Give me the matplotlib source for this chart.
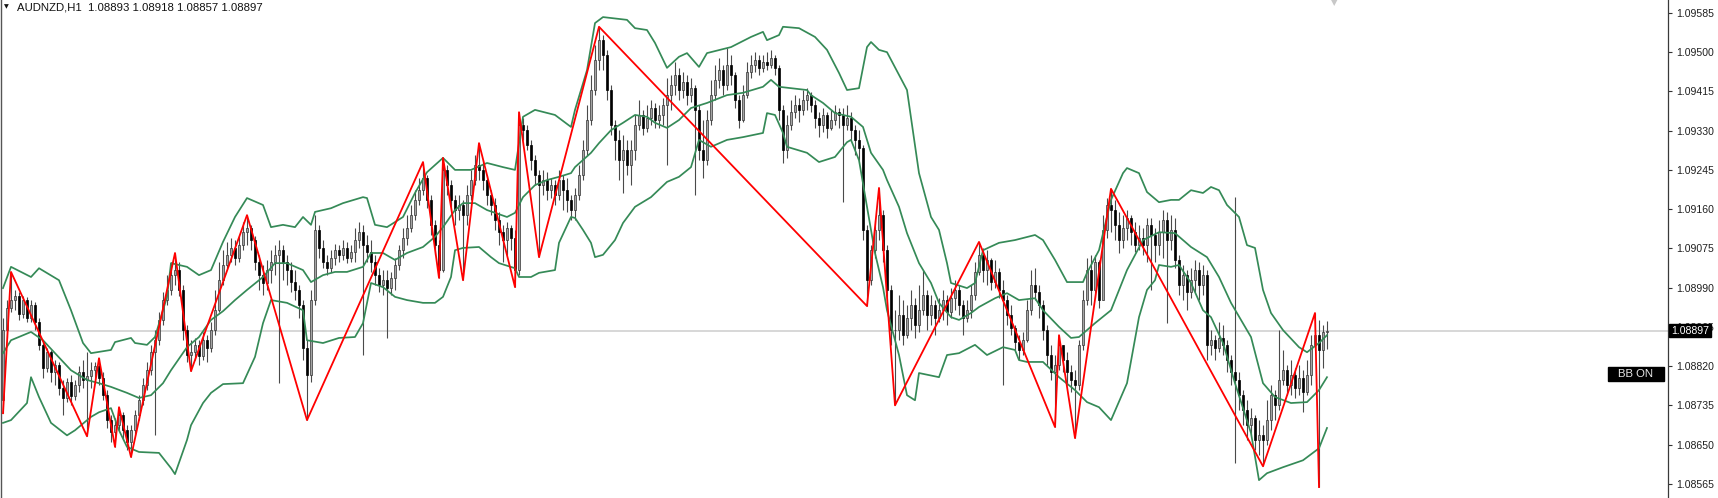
import numpy as np
import matplotlib
matplotlib.use("Agg")
import matplotlib.pyplot as plt
from matplotlib.patches import Rectangle

# ---------------- data (AUDNZD H1) ----------------
symbol_title = "AUDNZD,H1  1.08893 1.08918 1.08857 1.08897"

opens = [
    1.08746, 1.08898, 1.08946, 1.08963, 1.08972, 1.08933, 1.08963, 1.08924, 1.08952, 1.08915,
    1.08866, 1.08816, 1.08850, 1.08807, 1.08822, 1.08772, 1.08751, 1.08785, 1.08755, 1.08779,
    1.08807, 1.08790, 1.08798, 1.08811, 1.08820, 1.08794, 1.08757, 1.08703, 1.08677, 1.08692,
    1.08714, 1.08681, 1.08655, 1.08681, 1.08714, 1.08746, 1.08779, 1.08811, 1.08850, 1.08876,
    1.08920, 1.08963, 1.08985, 1.09017, 1.09028, 1.08985, 1.08898, 1.08844, 1.08850, 1.08866,
    1.08842, 1.08876, 1.08859, 1.08898, 1.08941, 1.09006, 1.09039, 1.09061, 1.09076, 1.09054,
    1.09082, 1.09110, 1.09119, 1.09093, 1.09045, 1.09017, 1.09000, 1.09028, 1.09045, 1.09061,
    1.09071, 1.09045, 1.09028, 1.09002, 1.08985, 1.08952, 1.08859, 1.08800, 1.08963, 1.09115,
    1.09076, 1.09045, 1.09032, 1.09054, 1.09071, 1.09061, 1.09076, 1.09054, 1.09067, 1.09093,
    1.09110, 1.09082, 1.09067, 1.09045, 1.09017, 1.08996, 1.09006, 1.08989, 1.09011, 1.09039,
    1.09071, 1.09097, 1.09119, 1.09147, 1.09180, 1.09201, 1.09227, 1.09180, 1.09126, 1.09082,
    1.09028, 1.09245, 1.09212, 1.09180, 1.09158, 1.09169, 1.09147, 1.09191, 1.09223, 1.09256,
    1.09245, 1.09223, 1.09191, 1.09169, 1.09136, 1.09110, 1.09093, 1.09119, 1.09097, 1.09028,
    1.09342, 1.09331, 1.09299, 1.09266, 1.09234, 1.09212, 1.09223, 1.09201, 1.09212, 1.09191,
    1.09223, 1.09201, 1.09180, 1.09158, 1.09191, 1.09234, 1.09288, 1.09353, 1.09418, 1.09483,
    1.09526, 1.09494, 1.09418, 1.09342, 1.09310, 1.09266, 1.09288, 1.09256, 1.09288, 1.09342,
    1.09364, 1.09336, 1.09357, 1.09379, 1.09353, 1.09364, 1.09386, 1.09407, 1.09429, 1.09451,
    1.09418, 1.09435, 1.09407, 1.09422, 1.09375, 1.09288, 1.09266, 1.09353, 1.09407, 1.09440,
    1.09461, 1.09429, 1.09472, 1.09451, 1.09396, 1.09353, 1.09407, 1.09457, 1.09472, 1.09483,
    1.09466, 1.09479, 1.09472, 1.09487, 1.09466, 1.09375, 1.09288, 1.09342, 1.09370, 1.09386,
    1.09375, 1.09396, 1.09407, 1.09386, 1.09357, 1.09342, 1.09364, 1.09336, 1.09353, 1.09370,
    1.09364, 1.09342, 1.09357, 1.09331, 1.09310, 1.09292, 1.09115, 1.09006, 1.09071, 1.09115,
    1.09147, 1.09071, 1.08985, 1.08898, 1.08898, 1.08931, 1.08887, 1.08924, 1.08952, 1.08909,
    1.08941, 1.08974, 1.08931, 1.08952, 1.08924, 1.08941, 1.08963, 1.08937, 1.08967, 1.08985,
    1.08952, 1.08924, 1.08941, 1.08974, 1.09024, 1.09061, 1.09028, 1.09050, 1.09002, 1.09024,
    1.08985, 1.08963, 1.08931, 1.08902, 1.08872, 1.08855, 1.08876, 1.08941, 1.08996, 1.08980,
    1.08952, 1.08898, 1.08844, 1.08807, 1.08822, 1.08866, 1.08833, 1.08807, 1.08790, 1.08779,
    1.08866, 1.08963, 1.09028, 1.08985, 1.09045, 1.08963, 1.09115, 1.09169, 1.09158, 1.09126,
    1.09093, 1.09119, 1.09141, 1.09110, 1.09082, 1.09097, 1.09082, 1.09126, 1.09104, 1.09082,
    1.09110, 1.09136, 1.09093, 1.09115, 1.09050, 1.08996, 1.09017, 1.08980, 1.09006, 1.09028,
    1.08996, 1.09017, 1.08866, 1.08876, 1.08859, 1.08881, 1.08866, 1.08833, 1.08807, 1.08790,
    1.08757, 1.08725, 1.08692, 1.08707, 1.08660, 1.08670, 1.08660, 1.08703, 1.08757, 1.08735,
    1.08790, 1.08811, 1.08779, 1.08800, 1.08772, 1.08794, 1.08764, 1.08800, 1.08866, 1.08887,
    1.08855, 1.08893,
]

highs = [
    1.08924, 1.08963, 1.09024, 1.08985, 1.08980, 1.08972, 1.08970, 1.08963, 1.08959, 1.08924,
    1.08872, 1.08859, 1.08855, 1.08833, 1.08829, 1.08790, 1.08794, 1.08800, 1.08790, 1.08820,
    1.08833, 1.08850, 1.08829, 1.08829, 1.08837, 1.08807, 1.08768, 1.08714, 1.08707, 1.08731,
    1.08720, 1.08692, 1.08692, 1.08725, 1.08757, 1.08794, 1.08829, 1.08866, 1.08898, 1.08937,
    1.08980, 1.09017, 1.09045, 1.09065, 1.09045, 1.08996, 1.08909, 1.08876, 1.08881, 1.08876,
    1.08894, 1.08887, 1.08915, 1.08985, 1.09045, 1.09071, 1.09089, 1.09097, 1.09093, 1.09102,
    1.09132, 1.09147, 1.09126, 1.09102, 1.09061, 1.09039, 1.09050, 1.09071, 1.09082, 1.09093,
    1.09082, 1.09061, 1.09045, 1.09028, 1.08996, 1.08963, 1.08876, 1.08985, 1.09147, 1.09126,
    1.09093, 1.09061, 1.09071, 1.09084, 1.09082, 1.09093, 1.09089, 1.09082, 1.09119, 1.09132,
    1.09126, 1.09104, 1.09093, 1.09061, 1.09032, 1.09028, 1.09028, 1.09024, 1.09054, 1.09082,
    1.09119, 1.09147, 1.09169, 1.09201, 1.09227, 1.09262, 1.09234, 1.09191, 1.09136, 1.09093,
    1.09271, 1.09256, 1.09223, 1.09191, 1.09191, 1.09180, 1.09212, 1.09245, 1.09277, 1.09303,
    1.09266, 1.09234, 1.09201, 1.09184, 1.09154, 1.09126, 1.09132, 1.09126, 1.09115, 1.09370,
    1.09357, 1.09342, 1.09310, 1.09277, 1.09245, 1.09245, 1.09240, 1.09227, 1.09223, 1.09245,
    1.09234, 1.09227, 1.09191, 1.09206, 1.09256, 1.09310, 1.09386, 1.09451, 1.09516, 1.09555,
    1.09537, 1.09505, 1.09429, 1.09353, 1.09331, 1.09321, 1.09310, 1.09310, 1.09364, 1.09396,
    1.09375, 1.09386, 1.09396, 1.09390, 1.09386, 1.09401, 1.09444, 1.09451, 1.09479, 1.09466,
    1.09457, 1.09451, 1.09444, 1.09429, 1.09386, 1.09353, 1.09375, 1.09440, 1.09472, 1.09487,
    1.09472, 1.09509, 1.09494, 1.09457, 1.09407, 1.09429, 1.09479, 1.09494, 1.09500, 1.09494,
    1.09494, 1.09500, 1.09505, 1.09494, 1.09472, 1.09386, 1.09364, 1.09396, 1.09407, 1.09401,
    1.09418, 1.09422, 1.09414, 1.09396, 1.09370, 1.09379, 1.09370, 1.09375, 1.09386, 1.09379,
    1.09379, 1.09386, 1.09370, 1.09342, 1.09331, 1.09299, 1.09126, 1.09082, 1.09136, 1.09206,
    1.09158, 1.09082, 1.08996, 1.08941, 1.08974, 1.08963, 1.08952, 1.08985, 1.08967, 1.08996,
    1.09028, 1.08985, 1.08974, 1.08963, 1.08967, 1.08985, 1.08974, 1.08989, 1.09006, 1.08996,
    1.08963, 1.08963, 1.08996, 1.09045, 1.09089, 1.09076, 1.09071, 1.09054, 1.09050, 1.09032,
    1.09006, 1.08974, 1.08952, 1.08909, 1.08887, 1.08894, 1.08963, 1.09028, 1.09032, 1.08996,
    1.08963, 1.08909, 1.08866, 1.08844, 1.08887, 1.08866, 1.08850, 1.08822, 1.08811, 1.08876,
    1.08985, 1.09054, 1.09061, 1.09061, 1.09050, 1.09147, 1.09184, 1.09204, 1.09180, 1.09154,
    1.09147, 1.09158, 1.09147, 1.09132, 1.09126, 1.09119, 1.09141, 1.09141, 1.09119, 1.09136,
    1.09158, 1.09154, 1.09147, 1.09141, 1.09061, 1.09039, 1.09028, 1.09032, 1.09050, 1.09045,
    1.09039, 1.09028, 1.08898, 1.08887, 1.08915, 1.08909, 1.08876, 1.08844, 1.09186, 1.08807,
    1.08768, 1.08746, 1.08729, 1.08714, 1.08703, 1.08692, 1.08746, 1.08779, 1.08768, 1.08898,
    1.08855, 1.08822, 1.08833, 1.08816, 1.08822, 1.08811, 1.08833, 1.08887, 1.08935, 1.08920,
    1.08909, 1.08918,
]

lows = [
    1.08718, 1.08881, 1.08937, 1.08941, 1.08920, 1.08924, 1.08915, 1.08915, 1.08898, 1.08855,
    1.08794, 1.08807, 1.08785, 1.08779, 1.08757, 1.08714, 1.08742, 1.08735, 1.08746, 1.08764,
    1.08772, 1.08668, 1.08772, 1.08790, 1.08779, 1.08746, 1.08686, 1.08655, 1.08645, 1.08681,
    1.08660, 1.08638, 1.08623, 1.08670, 1.08703, 1.08735, 1.08768, 1.08800, 1.08670, 1.08866,
    1.08909, 1.08952, 1.08974, 1.08996, 1.08972, 1.08876, 1.08829, 1.08809, 1.08833, 1.08822,
    1.08833, 1.08829, 1.08850, 1.08887, 1.08937, 1.08996, 1.09032, 1.09045, 1.09039, 1.09045,
    1.09071, 1.09082, 1.09071, 1.09028, 1.08985, 1.08974, 1.08985, 1.09000, 1.09017, 1.08783,
    1.09006, 1.08996, 1.08980, 1.08963, 1.08924, 1.08833, 1.08703, 1.08785, 1.08952, 1.09054,
    1.09032, 1.09017, 1.09024, 1.09039, 1.09045, 1.09050, 1.09043, 1.09045, 1.09045, 1.09076,
    1.08844, 1.09045, 1.09024, 1.08996, 1.08980, 1.08974, 1.08881, 1.08974, 1.08985, 1.09028,
    1.09054, 1.09082, 1.09110, 1.09136, 1.09169, 1.09191, 1.09162, 1.09104, 1.09061, 1.09011,
    1.09024, 1.09191, 1.09154, 1.09126, 1.09136, 1.09006, 1.09126, 1.09180, 1.09212, 1.09223,
    1.09201, 1.09169, 1.09147, 1.09115, 1.09082, 1.09045, 1.09061, 1.09071, 1.08991, 1.09017,
    1.09310, 1.09288, 1.09245, 1.09212, 1.09056, 1.09191, 1.09180, 1.09184, 1.09169, 1.09180,
    1.09158, 1.09154, 1.09136, 1.09136, 1.09180, 1.09223, 1.09277, 1.09342, 1.09407, 1.09461,
    1.09461, 1.09396, 1.09321, 1.09266, 1.09223, 1.09195, 1.09234, 1.09212, 1.09266, 1.09331,
    1.09321, 1.09327, 1.09342, 1.09336, 1.09336, 1.09342, 1.09256, 1.09375, 1.09407, 1.09396,
    1.09401, 1.09386, 1.09392, 1.09191, 1.09266, 1.09227, 1.09256, 1.09342, 1.09396, 1.09422,
    1.09407, 1.09418, 1.09429, 1.09379, 1.09336, 1.09349, 1.09401, 1.09444, 1.09457, 1.09451,
    1.09457, 1.09461, 1.09466, 1.09451, 1.09353, 1.09260, 1.09271, 1.09331, 1.09357, 1.09349,
    1.09364, 1.09375, 1.09370, 1.09336, 1.09316, 1.09327, 1.09314, 1.09331, 1.09342, 1.09336,
    1.09175, 1.09331, 1.09310, 1.09277, 1.09266, 1.09093, 1.08950, 1.08996, 1.09054, 1.09093,
    1.09045, 1.08963, 1.08866, 1.08735, 1.08876, 1.08866, 1.08881, 1.08898, 1.08881, 1.08894,
    1.08931, 1.08898, 1.08909, 1.08887, 1.08915, 1.08920, 1.08909, 1.08924, 1.08941, 1.08931,
    1.08887, 1.08915, 1.08924, 1.08963, 1.09017, 1.09002, 1.08996, 1.08985, 1.08989, 1.08967,
    1.08779, 1.08909, 1.08887, 1.08855, 1.08833, 1.08844, 1.08872, 1.08931, 1.08963, 1.08924,
    1.08876, 1.08822, 1.08790, 1.08688, 1.08811, 1.08807, 1.08779, 1.08764, 1.08664, 1.08768,
    1.08855, 1.08952, 1.08952, 1.08967, 1.08946, 1.08963, 1.09097, 1.09110, 1.09093, 1.09065,
    1.09076, 1.09093, 1.09082, 1.09067, 1.09071, 1.09061, 1.09045, 1.08985, 1.09045, 1.09061,
    1.09054, 1.08913, 1.09071, 1.09032, 1.08974, 1.08963, 1.08941, 1.08967, 1.08980, 1.08963,
    1.08974, 1.08833, 1.08844, 1.08833, 1.08850, 1.08844, 1.08807, 1.08779, 1.08610, 1.08725,
    1.08692, 1.08660, 1.08670, 1.08638, 1.08627, 1.08603, 1.08649, 1.08681, 1.08703, 1.08725,
    1.08779, 1.08757, 1.08757, 1.08751, 1.08757, 1.08720, 1.08757, 1.08779, 1.08855, 1.08558,
    1.08816, 1.08857,
]

closes = [
    1.08898, 1.08946, 1.08963, 1.08972, 1.08933, 1.08963, 1.08924, 1.08952, 1.08915, 1.08866,
    1.08816, 1.08850, 1.08807, 1.08822, 1.08772, 1.08751, 1.08785, 1.08755, 1.08779, 1.08807,
    1.08790, 1.08798, 1.08811, 1.08820, 1.08794, 1.08757, 1.08703, 1.08677, 1.08692, 1.08714,
    1.08681, 1.08655, 1.08681, 1.08714, 1.08746, 1.08779, 1.08811, 1.08850, 1.08876, 1.08920,
    1.08963, 1.08985, 1.09017, 1.09028, 1.08985, 1.08898, 1.08844, 1.08850, 1.08866, 1.08842,
    1.08876, 1.08859, 1.08898, 1.08941, 1.09006, 1.09039, 1.09061, 1.09076, 1.09054, 1.09082,
    1.09110, 1.09119, 1.09093, 1.09045, 1.09017, 1.09000, 1.09028, 1.09045, 1.09061, 1.09071,
    1.09045, 1.09028, 1.09002, 1.08985, 1.08952, 1.08859, 1.08800, 1.08963, 1.09115, 1.09076,
    1.09045, 1.09032, 1.09054, 1.09071, 1.09061, 1.09076, 1.09054, 1.09067, 1.09093, 1.09110,
    1.09082, 1.09067, 1.09045, 1.09017, 1.08996, 1.09006, 1.08989, 1.09011, 1.09039, 1.09071,
    1.09097, 1.09119, 1.09147, 1.09180, 1.09201, 1.09227, 1.09180, 1.09126, 1.09082, 1.09028,
    1.09245, 1.09212, 1.09180, 1.09158, 1.09169, 1.09147, 1.09191, 1.09223, 1.09256, 1.09245,
    1.09223, 1.09191, 1.09169, 1.09136, 1.09110, 1.09093, 1.09119, 1.09097, 1.09028, 1.09342,
    1.09331, 1.09299, 1.09266, 1.09234, 1.09212, 1.09223, 1.09201, 1.09212, 1.09191, 1.09223,
    1.09201, 1.09180, 1.09158, 1.09191, 1.09234, 1.09288, 1.09353, 1.09418, 1.09483, 1.09526,
    1.09494, 1.09418, 1.09342, 1.09310, 1.09266, 1.09288, 1.09256, 1.09288, 1.09342, 1.09364,
    1.09336, 1.09357, 1.09379, 1.09353, 1.09364, 1.09386, 1.09407, 1.09429, 1.09451, 1.09418,
    1.09435, 1.09407, 1.09422, 1.09375, 1.09288, 1.09266, 1.09353, 1.09407, 1.09440, 1.09461,
    1.09429, 1.09472, 1.09451, 1.09396, 1.09353, 1.09407, 1.09457, 1.09472, 1.09483, 1.09466,
    1.09479, 1.09472, 1.09487, 1.09466, 1.09375, 1.09288, 1.09342, 1.09370, 1.09386, 1.09375,
    1.09396, 1.09407, 1.09386, 1.09357, 1.09342, 1.09364, 1.09336, 1.09353, 1.09370, 1.09364,
    1.09342, 1.09357, 1.09331, 1.09310, 1.09292, 1.09115, 1.09006, 1.09071, 1.09115, 1.09147,
    1.09071, 1.08985, 1.08898, 1.08898, 1.08931, 1.08887, 1.08924, 1.08952, 1.08909, 1.08941,
    1.08974, 1.08931, 1.08952, 1.08924, 1.08941, 1.08963, 1.08937, 1.08967, 1.08985, 1.08952,
    1.08924, 1.08941, 1.08974, 1.09024, 1.09061, 1.09028, 1.09050, 1.09002, 1.09024, 1.08985,
    1.08963, 1.08931, 1.08902, 1.08872, 1.08855, 1.08876, 1.08941, 1.08996, 1.08980, 1.08952,
    1.08898, 1.08844, 1.08807, 1.08822, 1.08866, 1.08833, 1.08807, 1.08790, 1.08779, 1.08866,
    1.08963, 1.09028, 1.08985, 1.09045, 1.08963, 1.09115, 1.09169, 1.09158, 1.09126, 1.09093,
    1.09119, 1.09141, 1.09110, 1.09082, 1.09097, 1.09082, 1.09126, 1.09104, 1.09082, 1.09110,
    1.09136, 1.09093, 1.09115, 1.09050, 1.08996, 1.09017, 1.08980, 1.09006, 1.09028, 1.08996,
    1.09017, 1.08866, 1.08876, 1.08859, 1.08881, 1.08866, 1.08833, 1.08807, 1.08790, 1.08757,
    1.08725, 1.08692, 1.08707, 1.08660, 1.08670, 1.08660, 1.08703, 1.08757, 1.08735, 1.08790,
    1.08811, 1.08779, 1.08800, 1.08772, 1.08794, 1.08764, 1.08800, 1.08866, 1.08887, 1.08855,
    1.08893, 1.08897,
]

bb_upper_bars = [0, 2, 7, 9, 14, 17, 20, 22, 27, 28, 32, 33, 36, 38, 41, 42, 46, 49, 52, 55,
                 58, 61, 65, 67, 70, 73, 75, 77, 78, 82, 85, 90, 91, 93, 96, 100, 103, 106, 110, 113,
                 117, 121, 125, 128, 130, 133, 138, 142, 143, 146, 148, 150, 156, 158, 161, 163, 166, 169, 171, 174,
                 176, 182, 187, 190, 191, 194, 195, 199, 203, 206, 209, 211, 214, 216, 217, 219, 221, 226, 229, 232,
                 234, 236, 237, 241, 243, 245, 249, 253, 258, 260, 263, 266, 270, 271, 274, 277, 280, 281, 284, 286,
                 289, 292, 294, 297, 300, 302, 304, 306, 309, 311, 313, 315, 317, 320, 324, 326, 329, 331]
bb_upper = [1.08989, 1.09035, 1.09013, 1.09032, 1.09006, 1.08941, 1.08870, 1.08848, 1.08855, 1.08872,
            1.08881, 1.08870, 1.08866, 1.08883, 1.08970, 1.09043, 1.09035, 1.09017, 1.09028, 1.09089,
            1.09143, 1.09184, 1.09169, 1.09121, 1.09126, 1.09121, 1.09143, 1.09126, 1.09154, 1.09162,
            1.09173, 1.09186, 1.09184, 1.09126, 1.09121, 1.09143, 1.09195, 1.09240, 1.09271, 1.09245,
            1.09245, 1.09260, 1.09251, 1.09245, 1.09360, 1.09375, 1.09364, 1.09338, 1.09375, 1.09461,
            1.09563, 1.09576, 1.09570, 1.09552, 1.09548, 1.09520, 1.09466, 1.09490, 1.09498, 1.09468,
            1.09498, 1.09511, 1.09533, 1.09544, 1.09526, 1.09537, 1.09555, 1.09552, 1.09533, 1.09505,
            1.09455, 1.09418, 1.09422, 1.09511, 1.09522, 1.09505, 1.09500, 1.09418, 1.09238, 1.09143,
            1.09115, 1.09043, 1.09000, 1.08989, 1.09000, 1.09071, 1.09087, 1.09093, 1.09104, 1.09093,
            1.09050, 1.09002, 1.09002, 1.09022, 1.09071, 1.09180, 1.09238, 1.09249, 1.09238, 1.09197,
            1.09175, 1.09180, 1.09180, 1.09201, 1.09195, 1.09208, 1.09201, 1.09169, 1.09143, 1.09082,
            1.09076, 1.08985, 1.08935, 1.08898, 1.08861, 1.08850, 1.08870, 1.08887]

bb_mid_bars = [0, 2, 7, 10, 13, 17, 21, 24, 27, 31, 34, 37, 40, 42, 46, 49, 52, 55, 58, 61,
               65, 68, 71, 75, 77, 80, 83, 86, 90, 92, 95, 98, 101, 105, 108, 110, 113, 115, 118, 121,
               123, 126, 128, 130, 133, 136, 139, 142, 143, 147, 149, 152, 155, 158, 161, 163, 166, 169, 172, 176,
               181, 185, 190, 192, 194, 197, 201, 202, 205, 208, 212, 215, 217, 220, 221, 224, 226, 229, 232, 234,
               237, 239, 242, 244, 248, 251, 254, 258, 260, 264, 267, 269, 273, 277, 281, 285, 289, 293, 297, 301,
               304, 307, 312, 315, 318, 322, 326, 329, 331]
bb_mid = [1.08848, 1.08876, 1.08894, 1.08876, 1.08848, 1.08811, 1.08790, 1.08783, 1.08775, 1.08762,
          1.08751, 1.08757, 1.08783, 1.08811, 1.08861, 1.08883, 1.08920, 1.08939, 1.08963, 1.08985,
          1.09013, 1.09043, 1.09043, 1.09028, 1.09002, 1.09017, 1.09024, 1.09024, 1.09035, 1.09065,
          1.09065, 1.09050, 1.09065, 1.09078, 1.09100, 1.09121, 1.09158, 1.09173, 1.09173, 1.09158,
          1.09152, 1.09143, 1.09152, 1.09186, 1.09212, 1.09223, 1.09230, 1.09238, 1.09251, 1.09282,
          1.09303, 1.09331, 1.09347, 1.09364, 1.09360, 1.09347, 1.09336, 1.09353, 1.09379, 1.09390,
          1.09407, 1.09412, 1.09425, 1.09440, 1.09425, 1.09422, 1.09418, 1.09407, 1.09390, 1.09368,
          1.09360, 1.09338, 1.09282, 1.09245, 1.09223, 1.09165, 1.09108, 1.09043, 1.09000, 1.08957,
          1.08926, 1.08920, 1.08935, 1.08948, 1.08967, 1.08978, 1.08963, 1.08967, 1.08941, 1.08905,
          1.08881, 1.08883, 1.08913, 1.08941, 1.09028, 1.09093, 1.09110, 1.09108, 1.09078, 1.09056,
          1.09013, 1.08957, 1.08883, 1.08783, 1.08753, 1.08740, 1.08742, 1.08768, 1.08796]

bb_lower_bars = [0, 2, 6, 7, 9, 12, 16, 18, 22, 24, 27, 29, 31, 34, 39, 42, 43, 46, 47, 50,
                 52, 55, 60, 63, 65, 67, 71, 75, 76, 80, 84, 88, 90, 92, 95, 98, 101, 105, 108, 110,
                 112, 113, 115, 119, 122, 124, 128, 129, 132, 134, 138, 139, 142, 143, 145, 147, 148, 150, 153, 155,
                 158, 162, 166, 169, 172, 174, 177, 181, 185, 190, 191, 193, 195, 196, 201, 204, 208, 211, 212, 214,
                 216, 218, 220, 221, 224, 226, 228, 229, 234, 236, 239, 243, 246, 250, 253, 254, 256, 260, 264, 268,
                 271, 274, 277, 281, 284, 286, 288, 289, 292, 294, 297, 300, 302, 305, 308, 312, 314, 316, 320, 325,
                 329, 331]
bb_lower = [1.08697, 1.08703, 1.08740, 1.08796, 1.08753, 1.08697, 1.08670, 1.08681, 1.08710, 1.08720,
            1.08729, 1.08681, 1.08645, 1.08634, 1.08632, 1.08599, 1.08586, 1.08660, 1.08692, 1.08740,
            1.08762, 1.08781, 1.08783, 1.08840, 1.08913, 1.08963, 1.08957, 1.08941, 1.08876, 1.08870,
            1.08881, 1.08883, 1.08913, 1.09000, 1.08991, 1.08970, 1.08963, 1.08957, 1.08957, 1.08970,
            1.09013, 1.09071, 1.09076, 1.09078, 1.09056, 1.09043, 1.09032, 1.09013, 1.09013, 1.09022,
            1.09028, 1.09087, 1.09143, 1.09141, 1.09115, 1.09087, 1.09056, 1.09061, 1.09093, 1.09130,
            1.09165, 1.09186, 1.09219, 1.09230, 1.09251, 1.09310, 1.09295, 1.09310, 1.09316, 1.09325,
            1.09368, 1.09364, 1.09325, 1.09295, 1.09282, 1.09262, 1.09273, 1.09305, 1.09310, 1.09266,
            1.09165, 1.09065, 1.08991, 1.08941, 1.08844, 1.08757, 1.08746, 1.08805, 1.08796, 1.08844,
            1.08848, 1.08866, 1.08844, 1.08861, 1.08855, 1.08833, 1.08829, 1.08829, 1.08796, 1.08768,
            1.08742, 1.08731, 1.08703, 1.08783, 1.08926, 1.08985, 1.09006, 1.09039, 1.09035, 1.09039,
            1.09000, 1.08941, 1.08926, 1.08870, 1.08783, 1.08675, 1.08573, 1.08588, 1.08601, 1.08616,
            1.08642, 1.08686]

# ZigZag pivots: bar index and whether the pivot is a Low or a High
zz_bars = [0, 2, 21, 24, 28, 29, 32, 43, 47, 61, 76, 105, 109, 110, 115, 119, 128, 129, 134, 149,
           216, 219, 223, 244, 263, 264, 268, 277, 315, 328, 329]
zz_kind = "LHLHLHLHLHLHLHLHLHLHLHLHLHLHLHL"

price_ticks = [1.08565, 1.08650, 1.08735, 1.08820, 1.08905, 1.08990, 1.09075,
               1.09160, 1.09245, 1.09330, 1.09415, 1.09500, 1.09585]
last_price = 1.08897

# ---------------- figure ----------------
W, H = 1718, 498
fig = plt.figure(figsize=(W / 100, H / 100), dpi=100)
fig.patch.set_facecolor("white")
ax = fig.add_axes([1 / W, 0, 1667 / W, 1])
ax.set_facecolor("white")

o = np.array(opens); h = np.array(highs); l = np.array(lows); c = np.array(closes)
x = np.arange(len(c))

ax.axhline(last_price, color="#d4d4d4", lw=1.3, zorder=1)

# wicks
ax.vlines(x, l, h, colors="#4a4a4a", lw=0.8, zorder=2)
# bodies
up = c >= o
bottom = np.minimum(o, c)
height = np.maximum(np.abs(c - o), 0.000006)
ax.bar(x[up], height[up], bottom=bottom[up], width=0.62, color="#a4a4a4",
       edgecolor="#333333", linewidth=0.5, zorder=3)
ax.bar(x[~up], height[~up], bottom=bottom[~up], width=0.62, color="#000000",
       edgecolor="#000000", linewidth=0.5, zorder=3)

# Bollinger bands
band_col = "#358a57"
ax.plot(bb_upper_bars, bb_upper, color=band_col, lw=1.25, zorder=4)
ax.plot(bb_mid_bars, bb_mid, color=band_col, lw=1.25, zorder=4)
ax.plot(bb_lower_bars, bb_lower, color=band_col, lw=1.25, zorder=4)

# ZigZag
zz_y = [l[b] if k == "L" else h[b] for b, k in zip(zz_bars, zz_kind)]
ax.plot(zz_bars, zz_y, color="#ff0000", lw=1.3, zorder=5)

ax.set_xlim(-0.5, 416.25)
ax.set_ylim(1.085343, 1.09613)

ax.set_xticks([])
ax.yaxis.tick_right()
ax.set_yticks(price_ticks)
ax.set_yticklabels([f"{p:.5f}" for p in price_ticks])
ax.tick_params(axis="y", direction="out", length=3, width=0.8, color="#333333",
               labelsize=7.6, labelcolor="#202020", pad=3)
for t in ax.get_yticklabels():
    t.set_fontfamily("Liberation Sans")

for s in ("top", "bottom"):
    ax.spines[s].set_visible(False)
ax.spines["right"].set_color("#3a3a3a")
ax.spines["right"].set_linewidth(0.9)
ax.spines["left"].set_color("#555555")
ax.spines["left"].set_linewidth(1.0)

# current price label on the axis (covers the 1.08905 label, as in the terminal)
ax.annotate(f"{last_price:.5f}", xy=(1, last_price), xycoords=("axes fraction", "data"),
            xytext=(2.2, 0), textcoords="offset points", ha="left", va="center",
            color="white", fontsize=7.6, family="Liberation Sans",
            bbox=dict(boxstyle="square,pad=0.15", fc="black", ec="black"),
            annotation_clip=False, zorder=10)

# title
fig.text(17 / W, 1 - 7.5 / H, symbol_title, fontsize=8.2, family="Liberation Sans",
         color="#111111", ha="left", va="center")
fig.text(6 / W, 1 - 7 / H, "\u25BC", fontsize=4.5, family="DejaVu Sans",
         color="#111111", ha="center", va="center")

# chart-shift marker
fig.text(1334 / W, 1 - 3 / H, "\u25BC", fontsize=6, family="DejaVu Sans",
         color="#c8c8c8", ha="center", va="center")

# "BB ON" button
fig.patches.append(Rectangle((1608 / W, 1 - 381 / H), 56 / W, 14.5 / H,
                             transform=fig.transFigure, fc="black", ec="black", zorder=10))
fig.text(1636 / W, 1 - 373.7 / H, "BB ON", fontsize=8.2, family="Liberation Sans",
         color="#e8e8e8", ha="center", va="center", zorder=11)

fig.savefig("out.png", dpi=100, facecolor="white")
